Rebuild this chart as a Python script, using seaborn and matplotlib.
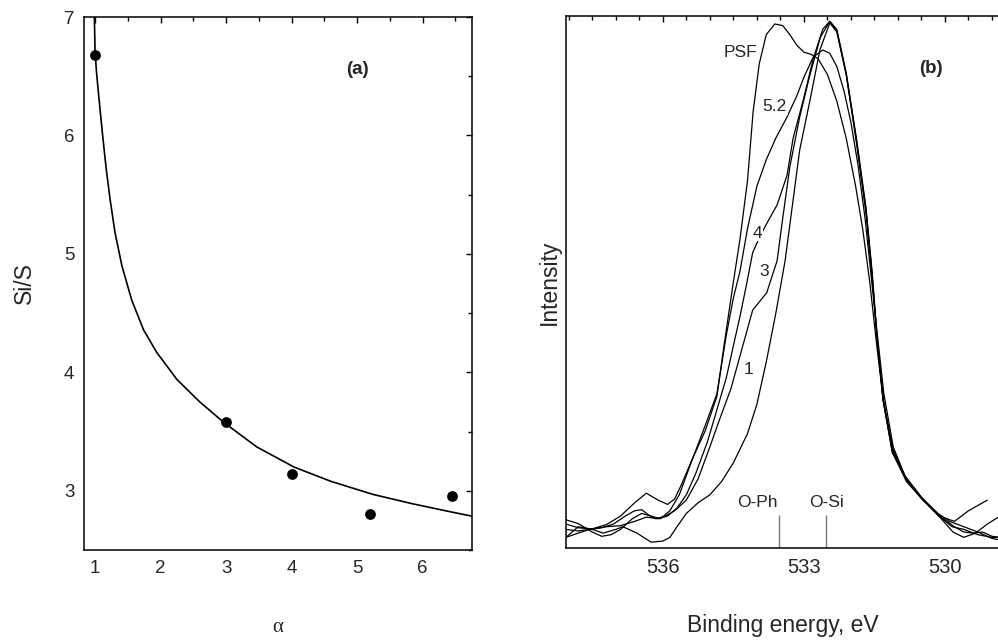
import matplotlib
matplotlib.use("Agg")
import matplotlib.pyplot as plt
from matplotlib.ticker import MultipleLocator, FixedLocator, NullFormatter
import seaborn as sns

# ---------------- panel (a): Si/S ratio versus alpha ----------------
alpha_pts = [1.0, 3.0, 4.0, 5.2, 6.45]
si_s_pts = [6.68, 3.58, 3.14, 2.80, 2.96]

# fitted trend line
fit_alpha = [0.99, 1.00, 1.02, 1.05, 1.08, 1.12, 1.17, 1.23, 1.305, 1.41, 1.56,
             1.74, 1.94, 2.25, 2.60, 2.96, 3.47, 4.04, 4.60, 5.24, 5.85, 6.45, 6.76]
fit_si_s = [7.00, 6.72, 6.55, 6.37, 6.20, 5.98, 5.72, 5.46, 5.18, 4.90, 4.61,
            4.36, 4.17, 3.94, 3.75, 3.58, 3.37, 3.20, 3.08, 2.97, 2.89, 2.82, 2.785]

# ---------------- panel (b): O 1s spectra ----------------
be_psf = [538.06, 537.8, 537.5, 537.2, 536.9, 536.6, 536.35, 536.1, 535.9, 535.75,
          535.6, 535.36, 535.1, 534.85, 534.7, 534.5, 534.36, 534.2, 534.08, 533.95,
          533.8, 533.62, 533.45, 533.3, 533.15, 533.0, 532.85, 532.7, 532.5, 532.3,
          532.1, 531.9, 531.75, 531.6, 531.45, 531.3, 531.1, 530.85, 530.5, 530.15,
          529.9, 529.6, 529.3, 529.0, 528.83]
int_psf = [0.045, 0.038, 0.036, 0.044, 0.06, 0.085, 0.103, 0.09, 0.082, 0.092,
           0.12, 0.17, 0.22, 0.285, 0.38, 0.50, 0.58, 0.69, 0.82, 0.91,
           0.965, 0.985, 0.982, 0.965, 0.945, 0.932, 0.928, 0.92, 0.89, 0.84,
           0.77, 0.68, 0.60, 0.50, 0.38, 0.27, 0.185, 0.135, 0.095, 0.065,
           0.05, 0.04, 0.03, 0.018, 0.015]

be_52 = [538.06, 537.8, 537.5, 537.3, 537.1, 536.9, 536.65, 536.45, 536.25, 536.05,
         535.85, 535.65, 535.4, 535.1, 534.85, 534.65, 534.5, 534.36, 534.2, 534.0,
         533.8, 533.6, 533.36, 533.15, 533.0, 532.8, 532.6, 532.45, 532.3, 532.15,
         532.0, 531.85, 531.7, 531.58, 531.45, 531.3, 531.1, 530.85, 530.5, 530.15,
         529.85, 529.6, 529.3, 529.0, 528.83]
int_52 = [0.053, 0.046, 0.03, 0.022, 0.025, 0.035, 0.055, 0.065, 0.06, 0.055,
          0.07, 0.10, 0.16, 0.23, 0.29, 0.40, 0.47, 0.52, 0.60, 0.68,
          0.73, 0.77, 0.81, 0.85, 0.885, 0.923, 0.936, 0.93, 0.905, 0.86,
          0.80, 0.72, 0.62, 0.52, 0.41, 0.29, 0.19, 0.135, 0.095, 0.062,
          0.04, 0.035, 0.025, 0.02, 0.02]

be_4 = [538.06, 537.8, 537.5, 537.2, 536.9, 536.6, 536.35, 536.1, 535.9, 535.7,
        535.5, 535.3, 535.05, 534.85, 534.65, 534.5, 534.36, 534.21, 534.09, 533.94,
        533.79, 533.57, 533.36, 533.23, 533.02, 532.8, 532.6, 532.45, 532.3, 532.1,
        531.88, 531.68, 531.55, 531.45, 531.32, 531.12, 530.82, 530.47, 530.11, 529.8,
        529.6, 529.4, 529.2, 529.0, 528.83]
int_4 = [0.035, 0.032, 0.036, 0.04, 0.042, 0.05, 0.058, 0.055, 0.06, 0.075,
         0.10, 0.14, 0.20, 0.26, 0.32, 0.38, 0.435, 0.50, 0.555, 0.585,
         0.61, 0.645, 0.70, 0.77, 0.84, 0.92, 0.975, 0.99, 0.972, 0.89,
         0.765, 0.635, 0.515, 0.40, 0.28, 0.18, 0.128, 0.09, 0.06, 0.04,
         0.03, 0.028, 0.03, 0.022, 0.02]

be_3 = [538.06, 537.8, 537.55, 537.3, 537.05, 536.8, 536.6, 536.45, 536.3, 536.15,
        535.95, 535.75, 535.5, 535.25, 535.0, 534.8, 534.55, 534.3, 534.09, 533.79,
        533.57, 533.45, 533.3, 533.09, 532.87, 532.65, 532.45, 532.3, 532.1, 531.88,
        531.68, 531.55, 531.45, 531.32, 531.12, 530.82, 530.47, 530.11, 529.8, 529.5,
        529.1]
int_3 = [0.02, 0.028, 0.035, 0.038, 0.045, 0.06, 0.07, 0.072, 0.062, 0.055,
         0.06, 0.07, 0.09, 0.13, 0.19, 0.24, 0.30, 0.38, 0.447, 0.48,
         0.54, 0.62, 0.716, 0.81, 0.89, 0.96, 0.99, 0.975, 0.893, 0.768,
         0.64, 0.52, 0.405, 0.285, 0.185, 0.13, 0.092, 0.06, 0.05, 0.07,
         0.09]

be_1 = [538.06, 537.8, 537.5, 537.27, 537.0, 536.85, 536.55, 536.25, 536.0, 535.85,
        535.7, 535.5, 535.25, 535.0, 534.75, 534.5, 534.2, 534.0, 533.8, 533.6,
        533.4, 533.23, 533.09, 532.87, 532.66, 532.45, 532.3, 532.1, 531.88, 531.68,
        531.55, 531.45, 531.32, 531.12, 530.82, 530.47, 530.11, 529.83, 529.6, 529.35,
        529.1, 528.83]
int_1 = [0.02, 0.04, 0.035, 0.028, 0.035, 0.04, 0.028, 0.011, 0.013, 0.02,
         0.04, 0.065, 0.085, 0.10, 0.125, 0.16, 0.215, 0.27, 0.35, 0.44,
         0.54, 0.654, 0.748, 0.842, 0.936, 0.987, 0.97, 0.89, 0.76, 0.63,
         0.51, 0.40, 0.28, 0.18, 0.125, 0.09, 0.058, 0.03, 0.02, 0.028,
         0.045, 0.06]

spectra = {"PSF": (be_psf, int_psf), "5.2": (be_52, int_52), "4": (be_4, int_4),
           "3": (be_3, int_3), "1": (be_1, int_1)}

# curve labels: (binding energy, intensity)
curve_label_pos = {"PSF": (534.36, 0.932), "5.2": (533.62, 0.829), "4": (533.98, 0.592),
                   "3": (533.85, 0.519), "1": (534.17, 0.335)}

# chemical-state markers
marker_names = ["O-Ph", "O-Si"]
marker_be = [533.53, 532.53]

# ---------------- styling ----------------
sns.set_style("white")
plt.rcParams.update({
    "font.family": ["Liberation Sans", "DejaVu Sans"],
    "xtick.direction": "in",
    "ytick.direction": "in",
    "axes.edgecolor": "black",
    "axes.linewidth": 1.1,
})

fig = plt.figure(figsize=(9.98, 6.40), dpi=100)
ax_a = fig.add_axes([0.0842, 0.1406, 0.3888, 0.8328])
ax_b = fig.add_axes([0.5671, 0.14375, 0.4349, 0.83125])

# ---- panel (a) ----
sns.lineplot(x=fit_alpha, y=fit_si_s, ax=ax_a, color="black", lw=1.2,
             sort=False, estimator=None)
sns.scatterplot(x=alpha_pts, y=si_s_pts, ax=ax_a, color="black", s=60,
                edgecolor="black", linewidth=0, zorder=3)
ax_a.set_xlim(0.832, 6.756)
ax_a.set_ylim(2.5, 7.0)
ax_a.xaxis.set_major_locator(FixedLocator([1, 2, 3, 4, 5, 6]))
ax_a.xaxis.set_minor_locator(MultipleLocator(0.5))
ax_a.yaxis.set_major_locator(FixedLocator([3, 4, 5, 6, 7]))
ax_a.yaxis.set_minor_locator(MultipleLocator(0.5))
ax_a.tick_params(which="both", top=True, right=True, color="black")
ax_a.tick_params(which="major", length=4, width=1, labelsize=13.5, pad=7)
ax_a.tick_params(which="minor", length=3, width=1)
ax_a.set_xlabel("α", family=["Liberation Serif", "DejaVu Serif"], fontsize=15,
                labelpad=30)
ax_a.set_ylabel("Si/S", fontsize=16.5, labelpad=20)
ax_a.text(5.0, 6.56, "(a)", fontsize=13.5, fontweight="bold", ha="center", va="center")
for s in ax_a.spines.values():
    s.set_visible(True)
    s.set_color("black")

# ---- panel (b) ----
for name, (be, inten) in spectra.items():
    sns.lineplot(x=be, y=inten, ax=ax_b, color="black", lw=0.9,
                 sort=False, estimator=None)
for name, (ex, ey) in curve_label_pos.items():
    ax_b.text(ex, ey, name, fontsize=12.5, ha="center", va="center",
              bbox=dict(facecolor="white", edgecolor="none", pad=0.5))

ax_b.vlines(marker_be, 0, 0.062, color="#777777", lw=1)
for name, e in zip(marker_names, marker_be):
    ax_b.text(e + (0.47 if name == "O-Ph" else 0.0), 0.085, name, fontsize=12.5,
              ha="center", va="center")
ax_b.text(530.30, 0.902, "(b)", fontsize=13.5, fontweight="bold", ha="center", va="center")

ax_b.set_xlim(538.06, 528.83)
ax_b.set_ylim(0, 1)
ax_b.xaxis.set_major_locator(FixedLocator([536, 533, 530]))
ax_b.xaxis.set_minor_locator(MultipleLocator(0.5))
ax_b.yaxis.set_major_locator(FixedLocator([0.2, 0.4, 0.6, 0.8]))
ax_b.yaxis.set_major_formatter(NullFormatter())
ax_b.tick_params(which="both", top=True, right=False, color="black")
ax_b.tick_params(which="major", length=4, width=1, labelsize=14.5, pad=7)
ax_b.tick_params(which="minor", length=3, width=1)
ax_b.set_xlabel("Binding energy, eV", fontsize=16.5, labelpad=27)
ax_b.set_ylabel("Intensity", fontsize=16.5, labelpad=-3)
for s in ax_b.spines.values():
    s.set_visible(True)
    s.set_color("black")
ax_b.spines["right"].set_visible(False)

fig.savefig("out.png", dpi=100, facecolor="white")
